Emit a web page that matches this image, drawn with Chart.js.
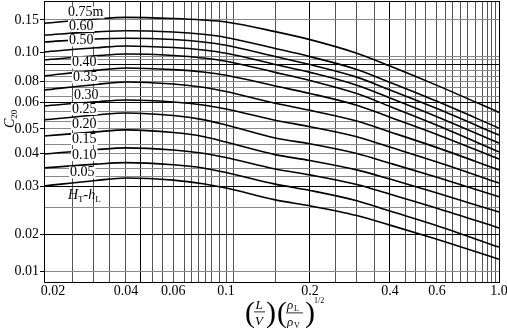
<!DOCTYPE html>
<html><head><meta charset="utf-8">
<script src="https://cdn.jsdelivr.net/npm/chart.js@4.4.1/dist/chart.umd.min.js"></script>
<style>html,body{margin:0;padding:0;background:#fff}#wrap{width:507px;height:328px;position:relative}</style>
</head><body><div id="wrap"><canvas id="c" width="507" height="328"></canvas></div>
<script>
// ---- data ----
const flowParams = [0.019, 0.03, 0.04, 0.06, 0.08, 0.1, 0.15, 0.2, 0.3, 0.4, 0.6, 1.0];
const hT075 = [0.144, 0.152, 0.155, 0.1528, 0.150, 0.1463, 0.1295, 0.117, 0.0991, 0.090, 0.076, 0.056];
const hT060 = [0.124, 0.129, 0.131, 0.1288, 0.1251, 0.1203, 0.1046, 0.0966, 0.0877, 0.0792, 0.0608, 0.0503];
const hT050 = [0.1135, 0.118, 0.119, 0.1171, 0.1136, 0.1090, 0.0967, 0.091, 0.0828, 0.0713, 0.0575, 0.0473];
const unlabeledUpper = [0.100, 0.1055, 0.108, 0.1058, 0.1026, 0.0991, 0.0911, 0.0858, 0.0762, 0.0638, 0.0544, 0.0440];
const unlabeledLower = [0.0942, 0.0972, 0.0985, 0.0974, 0.0956, 0.0933, 0.0858, 0.0807, 0.0678, 0.0583, 0.0513, 0.0406];
const hT040 = [0.0835, 0.0871, 0.0887, 0.0876, 0.0861, 0.0840, 0.0754, 0.0679, 0.0588, 0.0542, 0.0476, 0.0381];
const hT035 = [0.0712, 0.0770, 0.0797, 0.0774, 0.0740, 0.0697, 0.0596, 0.0568, 0.0528, 0.0487, 0.0422, 0.0346];
const hT030 = [0.0585, 0.0604, 0.0620, 0.0603, 0.0589, 0.0573, 0.0531, 0.0508, 0.0466, 0.0424, 0.0371, 0.0308];
const hT025 = [0.0532, 0.0550, 0.0558, 0.0548, 0.0533, 0.0514, 0.0461, 0.0437, 0.0400, 0.0367, 0.0324, 0.0274];
const hT020 = [0.0469, 0.0487, 0.0496, 0.0484, 0.0467, 0.0444, 0.0396, 0.0376, 0.0346, 0.0319, 0.0283, 0.0241];
const hT015 = [0.0398, 0.0414, 0.0421, 0.0413, 0.0401, 0.0386, 0.0349, 0.0331, 0.0304, 0.0280, 0.0249, 0.0211];
const hT010 = [0.0352, 0.0364, 0.0369, 0.0362, 0.0352, 0.0338, 0.0305, 0.0289, 0.0265, 0.0243, 0.0215, 0.0157];
const hT005 = [0.0300, 0.0315, 0.0322, 0.0316, 0.0306, 0.0295, 0.0267, 0.0254, 0.0234, 0.0216, 0.0182, 0.0125];
const curveSeries = [hT075, hT060, hT050, unlabeledUpper, unlabeledLower, hT040, hT035, hT030, hT025, hT020, hT015, hT010, hT005];
const curveNames = ['0.75m', '0.60', '0.50', '', '', '0.40', '0.35', '0.30', '0.25', '0.20', '0.15', '0.10', '0.05'];

const xTickValues = [0.02, 0.04, 0.06, 0.1, 0.2, 0.4, 0.6, 1.0];
const xTickLabels = ['0.02', '0.04', '0.06', '0.1', '0.2', '0.4', '0.6', '1.0'];
const yTickValues = [0.01, 0.02, 0.03, 0.04, 0.05, 0.06, 0.08, 0.10, 0.15];
const yTickLabels = ['0.01', '0.02', '0.03', '0.04', '0.05', '0.06', '0.08', '0.10', '0.15'];
const xGridValues = [0.024, 0.0295, 0.0343, 0.04, 0.0454, 0.05, 0.0548, 0.06, 0.0666, 0.0717, 0.0765, 0.082, 0.087, 0.0937, 0.1, 0.106, 0.15, 0.2, 0.25, 0.3, 0.35, 0.4, 0.458, 0.5, 0.544, 0.6, 0.641, 0.683, 0.726, 0.773, 0.827, 0.874, 0.908, 0.938, 0.969, 1.0];
const yGridValues = [0.01, 0.02, 0.025, 0.03, 0.0327, 0.0351, 0.04, 0.0433, 0.05, 0.0528, 0.0565, 0.06, 0.065, 0.074, 0.08, 0.0835, 0.0873, 0.0907, 0.0947, 0.0965, 0.15];
const xBoldGrid = [0.0454, 0.2, 0.4];
const yBoldGrid = [0.02, 0.03, 0.06, 0.0907];

// ---- axis calibration (value -> fraction of axis length) ----
const axisCalib = {
  x: { anchors: [[0.019, 0], [0.02, 0.0198], [0.04, 0.1802], [0.06, 0.2842], [0.1, 0.4], [0.2, 0.5846], [0.4, 0.7604], [0.6, 0.8637], [1.0, 1]],
       labels: xTickValues, labelText: xTickLabels, grid: xGridValues, bold: xBoldGrid },
  y: { anchors: [[0.00812, 0], [0.01, 0.0391], [0.02, 0.1698], [0.03, 0.3416], [0.04, 0.4573], [0.05, 0.5445], [0.06, 0.6395], [0.08, 0.7128], [0.10, 0.8185], [0.15, 0.9324], [0.19, 1]],
       labels: yTickValues, labelText: yTickLabels, grid: yGridValues, bold: yBoldGrid }
};
const near = (a, b) => Math.abs(a - b) < 1e-9;
const inList = (v, list) => list.some(w => near(v, w));

class PiecewiseLogScale extends Chart.LinearScale {
  calib() { return axisCalib[this.id]; }
  determineDataLimits() {
    const a = this.calib().anchors;
    this.min = a[0][0]; this.max = a[a.length - 1][0];
  }
  buildTicks() {
    const c = this.calib();
    const vals = c.labels.concat(c.grid.filter(v => !inList(v, c.labels))).sort((p, q) => p - q);
    return vals.map(v => ({ value: v }));
  }
  getPixelForValue(value) {
    const a = this.calib().anchors;
    const lv = Math.log10(value);
    let i = 0;
    while (i < a.length - 2 && lv > Math.log10(a[i + 1][0])) i++;
    const l0 = Math.log10(a[i][0]), l1 = Math.log10(a[i + 1][0]);
    const t = (lv - l0) / (l1 - l0);
    return this.getPixelForDecimal(a[i][1] + t * (a[i + 1][1] - a[i][1]));
  }
  getValueForPixel(pixel) {
    const a = this.calib().anchors;
    const d = this.getDecimalForPixel(pixel);
    let i = 0;
    while (i < a.length - 2 && d > a[i + 1][1]) i++;
    const t = (d - a[i][1]) / (a[i + 1][1] - a[i][1]);
    const l0 = Math.log10(a[i][0]), l1 = Math.log10(a[i + 1][0]);
    return Math.pow(10, l0 + t * (l1 - l0));
  }
}
PiecewiseLogScale.id = 'pwlog';
PiecewiseLogScale.defaults = {};
Chart.register(PiecewiseLogScale);

const SERIF = '"Liberation Serif", "DejaVu Serif", serif';

const curveLabelPos = [
  ['0.75m', 68, 12.5], ['0.60', 69, 26], ['0.50', 69, 40.5], ['0.40', 72, 62.5], ['0.35', 73, 77.5],
  ['0.30', 74, 95], ['0.25', 72, 109], ['0.20', 72, 124], ['0.15', 72, 139], ['0.10', 72, 155], ['0.05', 70, 172.5]
];

const annotations = {
  id: 'annotations',
  afterDatasetsDraw(chart) {
    const ctx = chart.ctx;
    ctx.save();
    ctx.font = '14px ' + SERIF;
    ctx.textBaseline = 'middle';
    ctx.textAlign = 'left';
    for (const [txt, x, y] of curveLabelPos) {
      const w = ctx.measureText(txt).width;
      ctx.fillStyle = '#fff';
      ctx.fillRect(x - 1, y - 6, w + 2, 12);
      ctx.fillStyle = '#000';
      ctx.fillText(txt, x, y);
    }
    // H_T - h_L
    let x = 68; const yb = 199;
    ctx.textBaseline = 'alphabetic';
    ctx.font = 'italic 14px ' + SERIF; ctx.fillText('H', x, yb); x += ctx.measureText('H').width;
    ctx.font = '9px ' + SERIF; ctx.fillText('T', x, yb + 3); x += ctx.measureText('T').width;
    ctx.font = '14px ' + SERIF; ctx.fillText('-', x, yb); x += ctx.measureText('-').width;
    ctx.font = 'italic 14px ' + SERIF; ctx.fillText('h', x, yb); x += ctx.measureText('h').width;
    ctx.font = '9px ' + SERIF; ctx.fillText('L', x, yb + 3);
    // frame
    const a = chart.chartArea;
    ctx.strokeStyle = '#000'; ctx.lineWidth = 1;
    ctx.strokeRect(Math.round(a.left) + 0.5, Math.round(a.top) + 0.5, Math.round(a.right - a.left), Math.round(a.bottom - a.top));
    // y title C20
    ctx.save();
    ctx.translate(14, 128); ctx.rotate(-Math.PI / 2);
    ctx.font = 'italic 14px ' + SERIF; ctx.fillText('C', 0, 0);
    const cw = ctx.measureText('C').width;
    ctx.font = '9px ' + SERIF; ctx.fillText('20', cw, 3);
    ctx.restore();
    // x title (L/V)(rhoL/rhoV)^1/2
    ctx.font = '30px ' + SERIF;
    ctx.fillText('(', 245, 322);
    ctx.fillText(')', 266, 322);
    ctx.fillText('(', 277, 322);
    ctx.fillText(')', 305, 322);
    ctx.textAlign = 'center';
    ctx.font = 'italic 13px ' + SERIF;
    ctx.fillText('L', 259, 309);
    ctx.fillText('V', 259, 325);
    ctx.fillRect(254, 311.5, 11, 0.8);
    ctx.textAlign = 'left';
    ctx.fillText('\u03C1', 287, 309);
    ctx.fillText('\u03C1', 287, 326);
    ctx.font = '8px ' + SERIF;
    ctx.fillText('L', 294, 311);
    ctx.fillText('V', 294, 328);
    ctx.fillRect(286, 312.5, 17, 0.8);
    ctx.fillText('1/2', 314, 303);
    ctx.restore();
  }
};

function gridColor(axis) {
  return (ctx) => {
    const v = ctx.tick && ctx.tick.value;
    const c = axisCalib[axis];
    if (!inList(v, c.grid)) return 'rgba(0,0,0,0)';
    if (inList(v, c.bold)) return '#000';
    return axis === 'x' ? '#555' : '#888';
  };
}
function tickMarkColor(axis) {
  return (ctx) => {
    const v = ctx.tick && ctx.tick.value;
    return (axis === 'y' && inList(v, axisCalib.y.labels)) ? '#000' : 'rgba(0,0,0,0)';
  };
}
function tickText(axis) {
  return (value) => {
    const c = axisCalib[axis];
    const i = c.labels.findIndex(w => near(w, value));
    return i >= 0 ? c.labelText[i] : '';
  };
}

const datasets = curveSeries.map((series, k) => ({
  label: curveNames[k] || 'unlabeled',
  data: flowParams.map((fx, i) => ({ x: fx, y: series[i] })),
  borderColor: '#000',
  borderWidth: 1.6,
  pointRadius: 0,
  fill: false,
  cubicInterpolationMode: 'monotone'
}));

new Chart(document.getElementById('c'), {
  type: 'line',
  data: { datasets },
  options: {
    responsive: false,
    animation: false,
    devicePixelRatio: 1,
    layout: { padding: { left: 0, top: 1, right: 8, bottom: 0 } },
    plugins: { legend: { display: false }, tooltip: { enabled: false }, title: { display: false } },
    scales: {
      x: {
        type: 'pwlog',
        position: 'bottom',
        afterFit(s) { s.height = 46; s.paddingLeft = 0; s.paddingRight = 0; },
        grid: { color: gridColor('x'), drawTicks: false, lineWidth: 1 },
        border: { display: true, color: '#000', width: 1 },
        ticks: { autoSkip: false, maxRotation: 0, minRotation: 0, padding: 1, color: '#000', font: { family: SERIF, size: 14 }, callback: tickText('x') }
      },
      y: {
        type: 'pwlog',
        position: 'left',
        afterFit(s) { s.width = 44; s.paddingTop = 0; s.paddingBottom = 0; },
        grid: { color: gridColor('y'), tickColor: tickMarkColor('y'), tickLength: 4, lineWidth: 1 },
        border: { display: true, color: '#000', width: 1 },
        ticks: { autoSkip: false, padding: 1, color: '#000', font: { family: SERIF, size: 14 }, callback: tickText('y') }
      }
    }
  },
  plugins: [annotations]
});
</script></body></html>
